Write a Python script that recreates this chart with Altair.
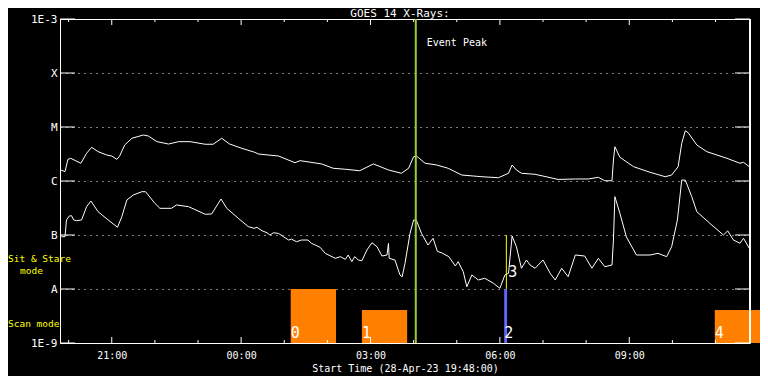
import altair as alt
import pandas as pd

# ---------------- data ----------------
TITLE = "GOES 14 X-Rays:"
X_TITLE = "Start Time (28-Apr-23 19:48:00)"
SPAN_MIN = 960                    # 16 hours shown, starting 19:48

# long channel (upper curve): minutes after start, flux W/m^2
long_t = [1, 7, 11, 15, 29, 37, 44, 53, 65, 72, 79, 83, 90, 100, 116, 123, 135, 151, 165, 181,
          202, 213, 225, 236, 253, 271, 276, 304, 327, 334, 364, 380, 397, 417, 436, 457, 475, 485,
          492, 496, 508, 524, 540, 559, 587, 610, 624, 629, 635, 642, 661, 693, 717, 735, 749, 758,
          768, 770, 772, 779, 798, 821, 842, 851, 860, 865, 870, 874, 886, 900, 928, 946, 951, 959]
long_f = [1.60e-6, 1.49e-6, 2.52e-6, 2.63e-6, 2.13e-6, 3.26e-6, 4.21e-6, 3.49e-6, 3.03e-6, 2.90e-6,
          2.52e-6, 2.90e-6, 4.64e-6, 6.18e-6, 7.11e-6, 6.81e-6, 5.35e-6, 4.84e-6, 5.35e-6, 5.35e-6,
          4.79e-6, 4.79e-6, 6.18e-6, 4.84e-6, 4.03e-6, 3.40e-6, 3.16e-6, 2.90e-6, 2.18e-6, 2.38e-6,
          2.07e-6, 1.72e-6, 1.65e-6, 1.55e-6, 2.07e-6, 1.60e-6, 1.39e-6, 1.72e-6, 2.82e-6, 2.90e-6,
          2.13e-6, 1.98e-6, 1.72e-6, 1.29e-6, 1.20e-6, 1.15e-6, 1.39e-6, 1.98e-6, 1.60e-6, 1.39e-6,
          1.33e-6, 1.07e-6, 1.09e-6, 1.09e-6, 1.17e-6, 1.01e-6, 1.01e-6, 2.45e-6, 4.31e-6, 2.75e-6,
          1.84e-6, 1.45e-6, 1.20e-6, 1.29e-6, 1.84e-6, 4.99e-6, 8.53e-6, 7.83e-6, 4.64e-6, 3.49e-6,
          2.63e-6, 2.13e-6, 2.22e-6, 1.84e-6]

# short channel (lower curve)
short_t = [2, 7, 9, 13, 16, 19, 23, 30, 37, 43, 53, 67, 80, 86, 93, 102, 114, 119, 132, 139, 155,
           162, 179, 202, 211, 224, 232, 248, 262, 270, 274, 281, 288, 292, 297, 304, 311, 318, 322,
           329, 336, 345, 350, 355, 362, 369, 383, 390, 397, 401, 406, 410, 415, 420, 427, 434, 441,
           448, 455, 457, 458, 466, 473, 476, 480, 487, 492, 496, 503, 512, 519, 525, 532, 541, 550,
           554, 561, 566, 573, 582, 591, 603, 612, 619, 624, 629, 635, 642, 649, 654, 661, 672, 682,
           689, 698, 707, 717, 730, 740, 749, 758, 768, 770, 772, 779, 788, 802, 821, 832, 844, 851,
           859, 865, 870, 879, 886, 904, 923, 929, 937, 946, 951, 959]
short_f = [9.3e-8, 9.3e-8, 1.90e-7, 2.25e-7, 2.28e-7, 1.90e-7, 1.84e-7, 1.90e-7, 3.34e-7, 4.26e-7,
           2.70e-7, 1.90e-7, 1.39e-7, 2.18e-7, 4.45e-7, 5.51e-7, 6.34e-7, 6.34e-7, 3.86e-7, 3.12e-7,
           3.12e-7, 3.60e-7, 3.34e-7, 2.42e-7, 2.45e-7, 4.64e-7, 3.12e-7, 2.04e-7, 1.43e-7, 1.33e-7,
           1.39e-7, 1.20e-7, 1.10e-7, 1.00e-7, 1.10e-7, 1.07e-7, 9.3e-8, 8.07e-8, 8.4e-8,
           7.51e-8, 8.07e-8, 8.07e-8, 7.0e-8, 6.53e-8, 5.9e-8, 4.58e-8, 3.70e-8, 3.97e-8, 3.55e-8,
           4.26e-8, 3.21e-8, 3.97e-8, 3.44e-8, 3.34e-8, 5.27e-8, 7.19e-8, 6.07e-8,
           4.08e-8, 4.26e-8, 7.02e-8, 3.70e-8, 3.44e-8, 1.82e-8, 1.69e-8, 2.99e-8, 1.07e-7, 1.90e-7,
           1.84e-7, 1.07e-7, 6.53e-8, 8.69e-8, 5.0e-8, 4.6e-8, 3.97e-8, 2.67e-8,
           3.21e-8, 2.09e-8, 1.10e-8, 1.82e-8, 1.47e-8, 1.58e-8, 1.28e-8, 1.03e-8, 1.82e-8, 1.95e-8,
           9.57e-8, 6.07e-8, 2.42e-8, 3.44e-8, 2.78e-8, 2.42e-8, 3.44e-8, 1.95e-8,
           1.47e-8, 2.42e-8, 1.69e-8, 4.26e-8, 4.08e-8, 2.42e-8, 3.70e-8, 2.59e-8, 2.78e-8, 8.07e-8,
           5.12e-7, 2.52e-7, 9.2e-8, 4.26e-8, 4.26e-8, 4.58e-8, 3.97e-8, 6.07e-8,
           1.90e-7, 1.04e-6, 1.04e-6, 5.12e-7, 2.70e-7, 1.65e-7, 1.00e-7, 1.19e-7, 8.07e-8, 7.02e-8,
           8.69e-8, 5.68e-8]

# scan-mode blocks
scan_ids = ["0", "1", "2", "4"]
scan_start = [321, 420, 618, 911]
scan_end = [384, 483, 622, 978]
scan_top = [1e-8, 4.1e-9, 1e-8, 4.1e-9]
scan_color = ["#ff8000", "#ff8000", "#6464ff", "#ff8000"]

# sit & stare
stare_ids = ["3"]
stare_t = [621]
stare_lo = [1e-8]
stare_hi = [1e-7]

# event peak
peak_t = [495]
peak_label = ["Event Peak"]

# axes
y_levels = [1e-9, 1e-8, 1e-7, 1e-6, 1e-5, 1e-4, 1e-3]
y_names = ["1E-9", "A", "B", "C", "M", "X", "1E-3"]
x_label_vals = [72, 252, 432, 612, 792]
x_label_text = ["21:00", "00:00", "03:00", "06:00", "09:00"]
hour_ticks = list(range(12, SPAN_MIN, 60))

# ---------------- chart ----------------
W, H = 690, 324
FONT = "DejaVu Sans Mono"

xs = alt.Scale(domain=[0, SPAN_MIN], nice=False, zero=False)
ys = alt.Scale(type="log", domain=[1e-9, 1e-3], nice=False)

x_expr = "{" + ",".join(f"'{v}':'{s}'" for v, s in zip(x_label_vals, x_label_text)) + "}[datum.value]"
y_expr = "[" + ",".join(f"'{s}'" for s in y_names) + "][round(log(datum.value)/LN10)+9]"

x_axis = alt.Axis(
    values=x_label_vals, labelExpr=x_expr, ticks=False, tickSize=0, domain=False, grid=False,
    labelColor="white", labelFont=FONT, labelFontSize=10, labelPadding=7,
    title=X_TITLE, titleColor="white", titleFont=FONT, titleFontSize=10,
    titleFontWeight="normal", titlePadding=3)
y_axis = alt.Axis(
    values=y_levels, labelExpr=y_expr, ticks=False, tickSize=0, domain=False,
    grid=True, gridColor="white", gridDash=[1, 5], gridOpacity=1, gridWidth=1,
    labelColor="white", labelFont=FONT, labelFontSize=11, labelPadding=3, title=None)

curves = pd.concat([
    pd.DataFrame({"t": long_t, "f": long_f, "ch": "long"}),
    pd.DataFrame({"t": short_t, "f": short_f, "ch": "short"}),
])

scan_df = pd.DataFrame({"id": scan_ids, "t0": scan_start, "t1": scan_end,
                        "top": scan_top, "bot": 1e-9, "c": scan_color})
# first layer carries the axes
bars = alt.Chart(scan_df).mark_rect().encode(
    x=alt.X("t0:Q", scale=xs, axis=x_axis), x2="t1:Q",
    y=alt.Y("top:Q", scale=ys, axis=y_axis), y2="bot:Q",
    color=alt.Color("c:N", scale=None),
)

lines = alt.Chart(curves).mark_line(color="white", strokeWidth=1).encode(
    x=alt.X("t:Q", scale=xs),
    y=alt.Y("f:Q", scale=ys),
    detail="ch:N",
)

bar_labels = alt.Chart(scan_df).mark_text(
    color="white", font=FONT, fontSize=15, align="left", baseline="alphabetic", dy=-5
).encode(
    x=alt.X("t0:Q", scale=xs),
    y=alt.Y("bot:Q", scale=ys),
    text="id:N",
)

stare_df = pd.DataFrame({"id": stare_ids, "t": stare_t, "lo": stare_lo, "hi": stare_hi})
stare = alt.Chart(stare_df).mark_rule(color="#ffff00", strokeWidth=1).encode(
    x=alt.X("t:Q", scale=xs),
    y=alt.Y("lo:Q", scale=ys), y2="hi:Q",
)
stare_label = alt.Chart(stare_df).mark_text(
    color="white", font=FONT, fontSize=15, align="left", baseline="alphabetic", dx=2, dy=-12
).encode(
    x=alt.X("t:Q", scale=xs),
    y=alt.Y("lo:Q", scale=ys),
    text="id:N",
)

peak_df = pd.DataFrame({"t": peak_t, "label": peak_label, "lo": 1e-9, "hi": 1e-3})
peak = alt.Chart(peak_df).mark_rule(color="#9acd32", strokeWidth=2).encode(
    x=alt.X("t:Q", scale=xs),
    y=alt.Y("lo:Q", scale=ys), y2="hi:Q",
)
peak_text = alt.Chart(peak_df).mark_text(
    color="white", font=FONT, fontSize=10, align="left", baseline="middle", dx=11
).encode(
    x=alt.X("t:Q", scale=xs),
    y=alt.value(24),
    text="label:N",
)

# inward axis ticks
tick_df = pd.DataFrame({"t": hour_ticks})
tick_df["major"] = tick_df["t"].isin(x_label_vals)
maj = tick_df[tick_df["major"]]
mnr = tick_df[~tick_df["major"]]

def xticks(df, y0, y1):
    return alt.Chart(df).mark_rule(color="white", strokeWidth=1).encode(
        x=alt.X("t:Q", scale=xs), y=alt.value(y0), y2=alt.value(y1))

ylev_df = pd.DataFrame({"v": y_levels})
def yticks(x0, x1):
    return alt.Chart(ylev_df).mark_rule(color="white", strokeWidth=1).encode(
        y=alt.Y("v:Q", scale=ys), x=alt.value(x0), x2=alt.value(x1))

right_edge = alt.Chart(ylev_df).mark_rule(color="white", strokeWidth=1).encode(
    x=alt.value(W), y=alt.value(0), y2=alt.value(H))

# side annotations (pixel placement)
side_df = pd.DataFrame({"txt": ["Sit & Stare", "mode", "Scan mode"],
                        "px": [-52, -40, -52], "py": [240, 252, 305]})
side = alt.Chart(side_df).mark_text(
    font=FONT, fontSize=9.5, color="#ffff00", align="left", baseline="middle"
).encode(
    x=alt.X("px:Q", scale=None), y=alt.Y("py:Q", scale=None), text="txt:N",
)
title_df = pd.DataFrame({"txt": [TITLE]})
title = alt.Chart(title_df).mark_text(
    font=FONT, fontSize=11, color="white", align="center", baseline="top"
).encode(x=alt.value(340), y=alt.value(-11), text="txt:N")

chart = alt.layer(
    bars, lines, stare, peak, peak_text, bar_labels, stare_label,
    xticks(maj, H, H - 6), xticks(mnr, H, H - 3), xticks(maj, 0, 6), xticks(mnr, 0, 3),
    yticks(0, 15), yticks(W - 15, W), right_edge, side, title,
).properties(
    width=W, height=H,
    autosize=alt.AutoSizeParams(type="none"),
    padding={"left": 52, "top": 11, "right": 10, "bottom": 33},
).configure(background="black").configure_view(stroke="white", strokeWidth=1)

chart.save("out.html", embed_options={"renderer": "svg", "actions": False})
